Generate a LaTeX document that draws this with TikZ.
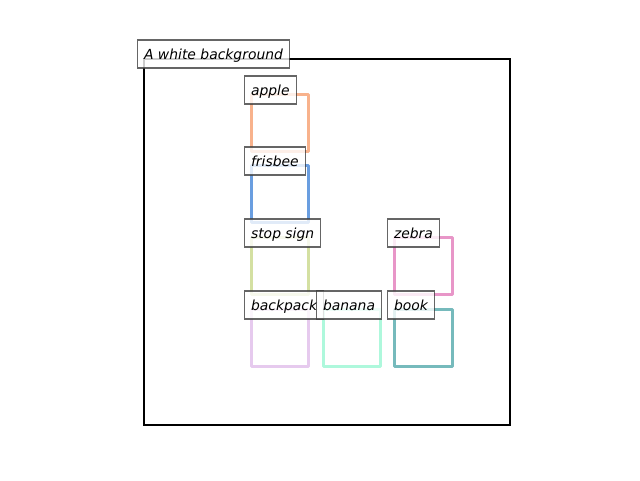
\documentclass[tikz,border=0pt]{standalone}
\usepackage{fontspec}
\setmainfont{DejaVu Sans}
\begin{document}
\begin{tikzpicture}[x=1pt,y=-1pt,
  frame/.style={draw=black,line width=2pt},
  objbox/.style={line width=3pt,line join=round},
  tag/.style={draw=black!75,draw opacity=0.8,fill=white,fill opacity=0.8,text opacity=1,
    line width=1.1pt,anchor=west,inner xsep=6.5pt,inner ysep=0pt,
    minimum height=28pt,text height=13pt,text depth=3pt,
    font=\fontsize{13.9}{16}\selectfont\itshape}]
\definecolor{cApple}{HTML}{F8B28C}
\definecolor{cFrisbee}{HTML}{6A9EE0}
\definecolor{cStop}{HTML}{D4E0A2}
\definecolor{cZebra}{HTML}{E896C8}
\definecolor{cBackpack}{HTML}{E6CAEE}
\definecolor{cBanana}{HTML}{AEF8DC}
\definecolor{cBook}{HTML}{76BABC}
\useasboundingbox (0,0) rectangle (640,480);
% canvas frame
\draw[frame] (144,59) rectangle (510,425);
% object boxes
\draw[objbox,cApple]    (251,94)  rectangle (308,151);
\draw[objbox,cFrisbee]  (251,165) rectangle (308,222);
\draw[objbox,cStop]     (251,237) rectangle (308,294);
\draw[objbox,cZebra]    (394,237) rectangle (452,294);
\draw[objbox,cBackpack] (251,309) rectangle (308,366);
\draw[objbox,cBanana]   (323,309) rectangle (380,366);
\draw[objbox,cBook]     (394,309) rectangle (452,366);
% labels
\node[tag] (bg)       at (137,54)  {A white background};
\node[tag] (apple)    at (244,90)  {apple};
\node[tag] (frisbee)  at (244,161) {frisbee};
\node[tag] (stopsign) at (244,233) {stop sign};
\node[tag] (zebra)    at (387,233) {zebra};
\node[tag] (backpack) at (244,305) {backpack};
\node[tag] (banana)   at (316,305) {banana};
\node[tag] (book)     at (387,305) {book};
\end{tikzpicture}
\end{document}
